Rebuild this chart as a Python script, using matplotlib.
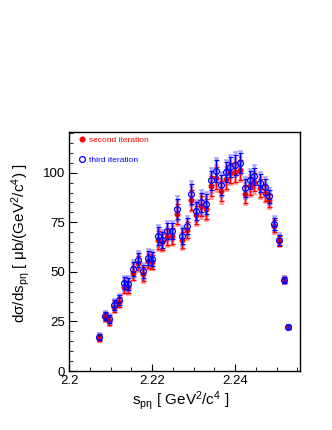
import matplotlib
matplotlib.use("Agg")
import matplotlib.pyplot as plt
import matplotlib.ticker as ticker
from matplotlib.lines import Line2D

plt.rcParams['font.family'] = ['Liberation Sans', 'DejaVu Sans']
plt.rcParams['mathtext.fontset'] = 'custom'
plt.rcParams['mathtext.rm'] = 'Liberation Sans'
plt.rcParams['mathtext.it'] = 'Liberation Sans:italic'

# s_p-eta bin centres [GeV^2/c^4]
s_peta = [2.2073, 2.2086, 2.2096, 2.2108, 2.2120, 2.2132, 2.2143, 2.2155,
          2.2167, 2.2178, 2.2190, 2.2201, 2.2214, 2.2225, 2.2237, 2.2248,
          2.2259, 2.2272, 2.2284, 2.2295, 2.2307, 2.2318, 2.2330, 2.2341,
          2.2353, 2.2365, 2.2377, 2.2388, 2.2401, 2.2412, 2.2424, 2.2435,
          2.2446, 2.2459, 2.2471, 2.2481, 2.2494, 2.2505, 2.2517, 2.2528]

# second iteration (red, filled)
second = [16.7, 27.1, 25.3, 32.5, 34.8, 42.6, 42.3, 49.6, 54.4, 48.8,
          55.7, 55.2, 66.2, 65.0, 67.5, 68.2, 79.3, 66.2, 71.2, 86.4,
          78.6, 83.0, 81.7, 93.1, 97.3, 90.6, 96.8, 99.8, 100.5, 101.5,
          89.4, 93.4, 95.1, 92.1, 89.7, 86.0, 72.9, 65.5, 46.0, 22.2]

# third iteration (blue, open)
third = [17.0, 27.8, 26.4, 33.2, 35.9, 44.3, 43.9, 51.5, 56.1, 50.2,
         57.2, 56.6, 68.2, 66.2, 70.4, 70.7, 81.8, 68.2, 73.2, 89.4,
         80.5, 85.0, 84.2, 96.1, 100.7, 93.9, 100.2, 102.9, 104.0, 104.9,
         92.1, 96.1, 98.1, 94.8, 92.8, 88.0, 74.2, 66.2, 46.0, 22.2]

# statistical errors (dark bars)
err_stat = [1.5, 2.0, 2.0, 2.5, 2.5, 3.0, 3.0, 3.5, 3.5, 3.5,
            3.5, 3.5, 4.5, 4.0, 4.0, 4.0, 5.0, 4.0, 4.0, 5.0,
            4.5, 5.0, 5.0, 5.0, 5.5, 5.0, 5.0, 5.0, 5.0, 5.0,
            4.5, 4.5, 4.5, 4.5, 4.0, 3.5, 3.0, 2.5, 1.5, 0.8]

# total errors (pale bars)
err_tot = [2.0, 2.5, 2.5, 3.0, 3.2, 3.8, 3.8, 4.4, 4.5, 4.4,
           4.5, 4.5, 5.6, 5.0, 5.0, 5.0, 6.2, 5.0, 5.0, 6.2,
           5.6, 6.2, 6.2, 6.2, 6.8, 6.2, 6.2, 6.2, 6.2, 6.2,
           5.6, 5.6, 5.6, 5.6, 5.0, 4.4, 3.8, 3.2, 2.0, 1.0]

fig = plt.figure(figsize=(3.32, 4.30), dpi=100)
ax = fig.add_axes([0.208, 0.137, 0.695, 0.556])

# pale (total) error bars
ax.errorbar(s_peta, second, yerr=err_tot, fmt='none', ecolor='#ff6666',
            elinewidth=2.0, capsize=1.8, capthick=1.2, alpha=0.55, zorder=2)
ax.errorbar(s_peta, third, yerr=err_tot, fmt='none', ecolor='#6666ff',
            elinewidth=2.0, capsize=1.8, capthick=1.2, alpha=0.55, zorder=3)
# dark (stat) error bars + markers
ax.errorbar(s_peta, second, yerr=err_stat, fmt='o', color='red', ms=3.3,
            mec='red', ecolor='red', elinewidth=1.0, capsize=1.8,
            capthick=1.0, zorder=4)
ax.errorbar(s_peta, third, yerr=err_stat, fmt='o', color='blue', ms=4.2,
            mfc='none', mec='blue', mew=0.9, ecolor='blue', elinewidth=1.0,
            capsize=1.8, capthick=1.0, zorder=5)

ax.set_xlim(2.2, 2.2556)
ax.set_ylim(0, 120.5)
ax.xaxis.set_major_locator(ticker.FixedLocator([2.2, 2.22, 2.24]))
ax.xaxis.set_major_formatter(ticker.FixedFormatter(['2.2', '2.22', '2.24']))
ax.xaxis.set_minor_locator(ticker.MultipleLocator(0.005))
ax.yaxis.set_major_locator(ticker.MultipleLocator(25))
ax.yaxis.set_minor_locator(ticker.MultipleLocator(5))
ax.tick_params(which='both', direction='in', top=False, right=False,
               labelsize=9.5)
ax.tick_params(axis='x', which='major', length=5, pad=3)
ax.tick_params(axis='y', which='major', length=6, pad=3)
ax.tick_params(which='minor', length=3)
for sp in ax.spines.values():
    sp.set_linewidth(1.0)

ax.set_xlabel(r'$\mathrm{s_{pη}}$ [ GeV$^{\mathrm{2}}$/c$^{\mathrm{4}}$ ]', fontsize=11)
ax.set_ylabel(r'dσ/ds$_{\mathrm{pη}}$ [ μb/(GeV$^{\mathrm{2}}$/c$^{\mathrm{4}}$) ]', fontsize=11)
ax.xaxis.set_label_coords(0.485, -0.075)
ax.yaxis.set_label_coords(-0.16, 0.535)

handles = [Line2D([], [], ls='none', marker='o', color='red', ms=3.3),
           Line2D([], [], ls='none', marker='o', mfc='none', mec='blue',
                  mew=0.9, ms=4.2)]
leg = ax.legend(handles, ['second iteration', 'third iteration'],
                loc='upper left', bbox_to_anchor=(0.040, 0.981),
                frameon=False, fontsize=6, handlelength=0.8,
                handletextpad=0.5, labelspacing=1.4, borderpad=0,
                borderaxespad=0)
leg.get_texts()[0].set_color('red')
leg.get_texts()[1].set_color('blue')

fig.savefig('out.png', dpi=100)
